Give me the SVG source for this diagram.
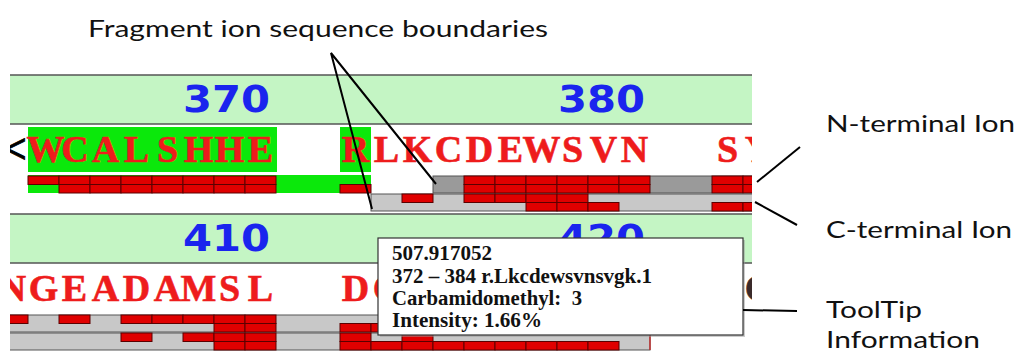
<svg xmlns="http://www.w3.org/2000/svg" xmlns:xlink="http://www.w3.org/1999/xlink" width="1018" height="354" viewBox="0 0 1018 354">
<style>
.band{fill:#c4f5c4}
.bl{stroke:#555;stroke-width:1.5}
.num{font-family:"DejaVu Sans",sans-serif;font-weight:bold;font-size:37px;fill:#1a24ee;text-anchor:start}
.seq{font-family:"Liberation Serif",serif;font-weight:bold;font-size:38px;fill:#ee1c1c;stroke:#ee1c1c;stroke-width:0.6;text-anchor:middle}
.hl{fill:#0be80b}
.r{fill:#e00000;stroke:#5a0000;stroke-width:1}
.tg1{fill:#9a9a9a;stroke:#555;stroke-width:1}
.tg2{fill:#c8c8c8;stroke:#555;stroke-width:1}
.lab{font-family:Lato,"Open Sans",sans-serif;font-size:23px;fill:#111}
.tt{font-family:"Liberation Serif",serif;font-weight:bold;font-size:20px;fill:#111;white-space:pre}
.ln{stroke:#000;stroke-width:2;fill:none}
</style>
<defs>
<rect id="b" class="r" width="31" height="8.5"/>
<clipPath id="pc"><rect x="10" y="0" width="742" height="354"/></clipPath>
</defs>
<rect width="1018" height="354" fill="#fff"/>

<g id="panel1" clip-path="url(#pc)">
<rect class="band" x="10" y="75" width="742" height="49"/>
<line class="bl" x1="10" y1="75" x2="752" y2="75"/>
<line class="bl" x1="10" y1="124" x2="752" y2="124"/>
<text class="num" x="183" y="112" textLength="87" lengthAdjust="spacingAndGlyphs">370</text>
<text class="num" x="558" y="112" textLength="87" lengthAdjust="spacingAndGlyphs">380</text>
<rect class="hl" x="28" y="127" width="249" height="45"/>
<rect class="hl" x="340" y="127" width="31" height="45"/>
<text x="15" y="163" font-family="Liberation Serif,serif" font-weight="bold" font-size="42" fill="#000" stroke="#000" stroke-width="0.8" text-anchor="middle">&lt;</text>
<text class="seq" x="45.5 75 105.5 136.5 167.5 198.5 229.5 260.5" y="162">WCALSHHE</text>
<text class="seq" x="355.5 386.5 417.5 448.5 479.5 510.5 541.5 572.5 603.5 634.5" y="162">RLKCDEWSVN</text>
<text class="seq" x="727.5 758.5" y="162">SY</text>
<rect class="hl" x="28" y="175" width="343" height="18"/>
<rect class="tg1" x="433" y="176" width="330" height="17"/>
<g>
<use xlink:href="#b" x="28" y="176"/><use xlink:href="#b" x="59" y="176"/><use xlink:href="#b" x="90" y="176"/><use xlink:href="#b" x="121" y="176"/><use xlink:href="#b" x="152" y="176"/><use xlink:href="#b" x="183" y="176"/><use xlink:href="#b" x="214" y="176"/><use xlink:href="#b" x="245" y="176"/>
<use xlink:href="#b" x="59" y="184.5"/><use xlink:href="#b" x="90" y="184.5"/><use xlink:href="#b" x="121" y="184.5"/><use xlink:href="#b" x="152" y="184.5"/><use xlink:href="#b" x="183" y="184.5"/><use xlink:href="#b" x="214" y="184.5"/><use xlink:href="#b" x="245" y="184.5"/>
<use xlink:href="#b" x="340" y="184.5"/>
<use xlink:href="#b" x="464" y="176"/><use xlink:href="#b" x="495" y="176"/><use xlink:href="#b" x="526" y="176"/><use xlink:href="#b" x="557" y="176"/><use xlink:href="#b" x="588" y="176"/><use xlink:href="#b" x="619" y="176"/>
<use xlink:href="#b" x="464" y="184.5"/><use xlink:href="#b" x="495" y="184.5"/><use xlink:href="#b" x="526" y="184.5"/><use xlink:href="#b" x="557" y="184.5"/><use xlink:href="#b" x="588" y="184.5"/><use xlink:href="#b" x="619" y="184.5"/>
<use xlink:href="#b" x="712" y="176"/><use xlink:href="#b" x="743" y="176"/>
<use xlink:href="#b" x="712" y="184.5"/><use xlink:href="#b" x="743" y="184.5"/>
</g>
<rect class="tg2" x="371" y="194" width="392" height="17"/>
<g>
<use xlink:href="#b" x="402" y="194"/><use xlink:href="#b" x="464" y="194"/><use xlink:href="#b" x="495" y="194"/><use xlink:href="#b" x="526" y="194"/><use xlink:href="#b" x="557" y="194"/>
<use xlink:href="#b" x="526" y="202.5"/><use xlink:href="#b" x="557" y="202.5"/><use xlink:href="#b" x="588" y="202.5"/><use xlink:href="#b" x="712" y="202.5"/><use xlink:href="#b" x="743" y="202.5"/>
</g>
</g>

<g id="panel2" clip-path="url(#pc)">
<rect class="band" x="10" y="214" width="742" height="49"/>
<line class="bl" x1="10" y1="214" x2="752" y2="214"/>
<line class="bl" x1="10" y1="263" x2="752" y2="263"/>
<text class="num" x="183" y="251" textLength="87" lengthAdjust="spacingAndGlyphs">410</text>
<text class="num" x="558" y="251" textLength="87" lengthAdjust="spacingAndGlyphs">420</text>
<text class="seq" x="12.5 43.5 74.5 105.5 136.5 167.5 198.5 229.5 260.5" y="301">NGEADAMSL</text>
<text class="seq" x="355.5 386.5" y="301">DC</text>
<text class="seq" x="758.5" y="301" style="fill:#3a2a2a;stroke:#3a2a2a">C</text>
<rect class="tg2" x="0" y="315" width="650" height="17"/>
<g>
<use xlink:href="#b" x="-3" y="315"/><use xlink:href="#b" x="59" y="315"/><use xlink:href="#b" x="121" y="315"/><use xlink:href="#b" x="152" y="315"/><use xlink:href="#b" x="183" y="315"/><use xlink:href="#b" x="214" y="315"/><use xlink:href="#b" x="245" y="315"/>
<use xlink:href="#b" x="214" y="323.5"/><use xlink:href="#b" x="245" y="323.5"/><use xlink:href="#b" x="340" y="323.5"/><use xlink:href="#b" x="371" y="323.5"/>
</g>
<rect class="tg2" x="0" y="333" width="650" height="17"/>
<line x1="650" y1="333" x2="650" y2="350" stroke="#c03030" stroke-width="1.5"/>
<g>
<use xlink:href="#b" x="121" y="333"/><use xlink:href="#b" x="183" y="333"/><use xlink:href="#b" x="214" y="333"/><use xlink:href="#b" x="245" y="333"/><use xlink:href="#b" x="340" y="333"/><use xlink:href="#b" x="402" y="333"/>
<use xlink:href="#b" x="214" y="341.5"/><use xlink:href="#b" x="245" y="341.5"/>
<use xlink:href="#b" x="340" y="341.5"/><use xlink:href="#b" x="371" y="341.5"/><use xlink:href="#b" x="402" y="341.5"/><use xlink:href="#b" x="433" y="341.5"/><use xlink:href="#b" x="464" y="341.5"/><use xlink:href="#b" x="495" y="341.5"/><use xlink:href="#b" x="526" y="341.5"/><use xlink:href="#b" x="557" y="341.5"/><use xlink:href="#b" x="588" y="341.5"/>
</g>
</g>

<g id="tooltip">
<rect x="380" y="240" width="365" height="97" fill="#999" opacity="0.5"/>
<rect x="378" y="238" width="365" height="97" fill="#fff" stroke="#333" stroke-width="1.2"/>
<text class="tt" x="392" y="260" textLength="100" lengthAdjust="spacingAndGlyphs">507.917052</text>
<text class="tt" x="392" y="283" textLength="260" lengthAdjust="spacingAndGlyphs">372 – 384 r.Lkcdewsvnsvgk.1</text>
<text class="tt" x="392" y="305" textLength="190" lengthAdjust="spacingAndGlyphs">Carbamidomethyl:  3</text>
<text class="tt" x="392" y="327" textLength="150" lengthAdjust="spacingAndGlyphs">Intensity: 1.66%</text>
</g>

<g id="label-boundaries"><text class="lab" x="88" y="37" textLength="460" lengthAdjust="spacingAndGlyphs">Fragment ion sequence boundaries</text></g>
<g id="label-nterm"><text class="lab" x="826" y="132" textLength="189" lengthAdjust="spacingAndGlyphs">N-terminal Ion</text></g>
<g id="label-cterm"><text class="lab" x="826" y="238" textLength="186" lengthAdjust="spacingAndGlyphs">C-terminal Ion</text></g>
<g id="label-tooltip"><text class="lab" x="826" y="318" textLength="96" lengthAdjust="spacingAndGlyphs">ToolTip</text><text class="lab" x="826" y="348" textLength="154" lengthAdjust="spacingAndGlyphs">Information</text></g>

<g id="connectors">
<polyline class="ln" points="372,209 331,53 436,184"/>
<line class="ln" x1="757" y1="182" x2="800" y2="147"/>
<line class="ln" x1="755" y1="202" x2="797" y2="225"/>
<line class="ln" x1="743" y1="310" x2="797" y2="311"/>
</g>
</svg>
